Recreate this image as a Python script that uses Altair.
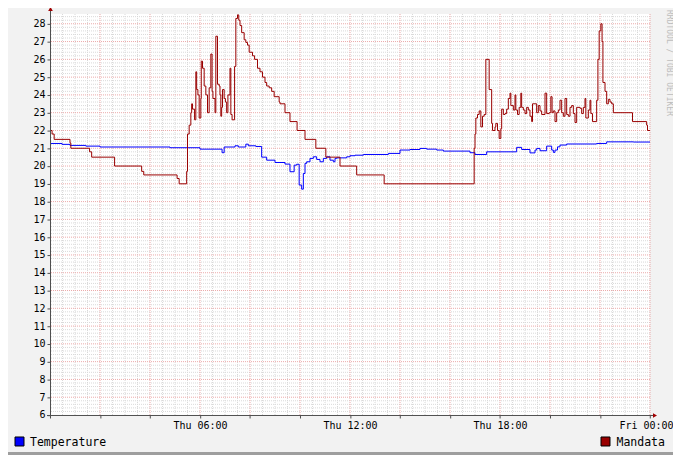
import altair as alt
import pandas as pd

# ---------------- data ----------------
mandata_time = ["00:00","00:05","00:10","00:48","00:50","01:35","01:40","02:35","03:40","03:45",
    "05:05","05:10","05:28","05:30","05:34","05:38","05:40","05:42","05:47","05:50","05:52","05:55",
    "05:58","06:02","06:03","06:06","06:10","06:14","06:18","06:22","06:26","06:29","06:31","06:36",
    "06:38","06:42","06:46","06:48","06:50","06:52","06:54","06:58","07:01","07:04","07:07","07:12",
    "07:14","07:17","07:23","07:26","07:30","07:33","07:36","07:40","07:46","07:50","07:54","07:58",
    "08:06","08:11","08:18","08:24","08:30","08:36","08:40","08:46","08:52","08:58","09:10","09:12",
    "09:24","09:36","09:53","10:12","10:38","11:02","11:36","12:16","13:22",
    "16:58","17:00","17:02","17:06","17:10","17:14","17:18","17:22","17:26","17:34","17:40","17:42",
    "17:48","17:50","17:54","17:58","18:02","18:04","18:08","18:12","18:16","18:20","18:24","18:26",
    "18:32","18:36","18:38","18:42","18:46","18:50","18:52","18:56","19:00","19:04","19:08","19:12",
    "19:16","19:18","19:28","19:32","19:36","19:40","19:48","19:52","19:58","20:02","20:05","20:08",
    "20:12","20:16","20:20","20:24","20:28","20:32","20:36","20:40","20:44","20:48","20:52","20:56",
    "21:00","21:04","21:12","21:16","21:20","21:24","21:26","21:32","21:36","21:38","21:42","21:52",
    "21:55","21:58","22:02","22:05","22:07","22:12","22:16","22:20","22:24","22:28","22:32","23:18",
    "23:52","23:54","24:00"]
mandata_value = [22.0,21.8,21.5,21.3,21.0,20.8,20.5,20.0,19.7,19.5,
    19.3,19.0,19.7,21.8,22.3,23.0,23.5,23.2,22.6,25.3,24.3,24.0,
    22.7,23.8,25.9,25.5,24.5,24.0,23.0,24.4,26.3,24.2,23.8,23.0,
    27.3,24.6,24.5,24.0,22.8,23.3,24.3,23.8,23.6,23.0,24.0,25.5,
    22.9,22.6,25.6,28.3,28.5,28.2,27.9,27.5,27.1,26.95,26.8,26.4,
    26.2,26.0,25.5,25.3,25.0,24.7,24.5,24.4,24.2,23.9,23.6,23.5,
    23.0,22.5,22.0,21.5,21.0,20.5,20.0,19.5,19.0,
    21.0,21.8,22.7,22.9,23.1,22.2,22.8,22.9,26.0,24.3,22.4,22.0,
    22.2,22.4,22.0,21.55,22.1,23.2,22.9,22.95,23.2,23.8,24.1,23.4,
    23.15,24.0,23.15,22.9,23.3,24.1,23.3,23.15,22.95,23.3,23.15,22.8,
    22.5,23.5,23.0,23.4,23.1,22.9,24.1,22.95,23.0,23.9,23.0,23.1,
    22.5,23.0,23.15,23.7,23.0,22.8,23.8,22.9,22.8,23.3,23.4,22.95,
    22.45,23.3,23.25,22.95,23.3,23.8,22.7,23.15,23.7,22.95,22.5,23.7,
    26.0,27.6,28.0,27.0,24.7,24.2,23.5,23.75,23.6,23.5,23.0,22.5,
    22.3,22.0,22.0]

temperature_time = ["00:00","00:29","00:48","01:26","02:00","04:48","06:00","06:53","06:58","07:24",
    "07:32","07:50","07:56","08:14","08:28","08:40","09:00","09:24","09:36","09:46","09:52","09:58",
    "10:04","10:08","10:12","10:16","10:24","10:32","10:40","10:48","10:56","11:04","11:12","11:20",
    "11:24","11:28","11:52","12:00","12:12","12:32","13:32","14:00","14:24","14:48","15:04","15:28",
    "15:44","16:48","17:00","17:28","18:40","18:52","19:12","19:24","19:28","19:36","19:52","20:04",
    "20:08","20:12","20:18","20:24","20:40","21:52","22:16","23:20","24:00"]
temperature_value = [21.27,21.22,21.16,21.12,21.07,21.03,20.95,20.75,21.07,21.14,
    21.07,21.23,21.14,21.1,20.5,20.33,20.2,20.11,19.68,20.05,20.1,18.93,
    18.7,19.58,20.15,20.24,20.43,20.52,20.37,20.24,20.43,20.52,20.33,20.24,
    20.43,20.46,20.52,20.58,20.61,20.65,20.71,20.9,20.93,20.99,20.95,20.9,
    20.84,20.75,20.65,20.8,21.05,20.93,20.74,20.9,20.99,20.86,21.12,20.9,
    20.77,20.9,21.08,21.18,21.24,21.27,21.36,21.35,21.35]

series_names = ["Temperature", "Mandata"]
series_colors = ["#0000FF", "#990000"]

tick_hours = [6, 12, 18, 24]
tick_labels = ["Thu 06:00", "Thu 12:00", "Thu 18:00", "Fri 00:00"]

y_ticks = list(range(6, 29))
watermark = "RRDTOOL / TOBI OETIKER"

# ---------------- build tables ----------------
def to_hours(t):
    h, m = t.split(":")
    return int(h) + int(m) / 60.0

df = pd.concat([
    pd.DataFrame({"h": [to_hours(t) for t in temperature_time], "v": temperature_value, "s": "Temperature"}),
    pd.DataFrame({"h": [to_hours(t) for t in mandata_time], "v": mandata_value, "s": "Mandata"}),
])

minor_x = pd.DataFrame({"h": [i * 0.5 for i in range(1, 49) if i % 4 != 0]})
major_x = pd.DataFrame({"h": list(range(2, 25, 2))})
minor_y = pd.DataFrame({"v": [round(6 + i * 0.2, 1) for i in range(1, 113) if i % 5 != 0]})
major_y = pd.DataFrame({"v": list(range(7, 29))})

# The page shrinks an SVG wider than 665 px to fit (keeping its height and centring it
# vertically); design at 673 units and compensate.
TOTAL_W = 673
K = TOTAL_W / 665.0
TOTAL_H = 447 * K
OFF = TOTAL_H * (1 - 1 / K) / 2.0      # vertical centring offset in page px
W, H = 600 * K, 401 * K
PAD_L = 42 * K
PAD_T = (6 - OFF) * K
PAD_R = TOTAL_W - PAD_L - W
PAD_B = TOTAL_H - PAD_T - H

FONT = "DejaVu Sans Mono"
xs = alt.Scale(domain=[0, 24], nice=False, zero=False)
ys = alt.Scale(domain=[6, 28.55], nice=False, zero=False)

label_expr = " : ".join(
    [f"datum.value == {h} ? '{l}'" for h, l in zip(tick_hours, tick_labels)]) + " : ''"

x_axis = alt.Axis(values=list(range(0, 25, 2)), labelExpr=label_expr, labelOverlap=False,
                  labelFont=FONT, labelFontSize=10 * K, labelColor="#000000", labelPadding=3 * K,
                  labelOffset={"condition": {"test": "datum.value == 24", "value": -4 * K}, "value": 0},
                  tickSize=3 * K, tickColor="#4F4F4F", tickWidth=K, domain=False, grid=False,
                  labelFlush=False, title=None)
y_axis = alt.Axis(values=y_ticks, format="d", labelFont=FONT, labelFontSize=10 * K,
                  labelColor="#000000", labelPadding=2 * K, tickSize=3 * K, tickColor="#4F4F4F",
                  tickWidth=K, domain=False, grid=False, title=None)

MINOR = "#D9D9D9"
MAJOR = "#EBA9A9"
DASH = [1 * K, 1 * K]

grid_minor_x = alt.Chart(minor_x).mark_rule(color=MINOR, strokeDash=DASH, strokeWidth=K).encode(
    x=alt.X("h:Q", scale=xs, axis=x_axis))
grid_major_x = alt.Chart(major_x).mark_rule(color=MAJOR, strokeDash=DASH, strokeWidth=K).encode(
    x=alt.X("h:Q", scale=xs, axis=x_axis))
grid_minor_y = alt.Chart(minor_y).mark_rule(color=MINOR, strokeDash=DASH, strokeWidth=K).encode(
    y=alt.Y("v:Q", scale=ys, axis=y_axis))
grid_major_y = alt.Chart(major_y).mark_rule(color=MAJOR, strokeDash=DASH, strokeWidth=K).encode(
    y=alt.Y("v:Q", scale=ys, axis=y_axis))

lines = alt.Chart(df).mark_line(interpolate="step-after", strokeWidth=K).encode(
    x=alt.X("h:Q", scale=xs, axis=x_axis),
    y=alt.Y("v:Q", scale=ys, axis=y_axis),
    color=alt.Color("s:N", scale=alt.Scale(domain=series_names, range=series_colors), legend=None),
    detail="s:N",
)

axis_color = "#4F4F4F"
y_axis_line = alt.Chart().mark_rule(color=axis_color, strokeWidth=K).encode(
    x=alt.value(0.5 * K), y=alt.value(H + 3 * K), y2=alt.value(-4 * K))
x_axis_line = alt.Chart().mark_rule(color=axis_color, strokeWidth=K).encode(
    x=alt.value(-3 * K), x2=alt.value(W + 5 * K), y=alt.value(H + 0.5 * K))
arrow_up = alt.Chart().mark_point(shape="triangle-up", filled=True, color="#A00000",
                                  size=22 * K * K, opacity=1).encode(
    x=alt.value(0.5 * K), y=alt.value(-5 * K))
arrow_right = alt.Chart().mark_point(shape="triangle-right", filled=True, color="#A00000",
                                     size=22 * K * K, opacity=1).encode(
    x=alt.value(W + 5 * K), y=alt.value(H + 0.5 * K))

leg = pd.DataFrame({"s": series_names, "c": series_colors,
                    "sx": [-30.5 * K, 555.5 * K], "tx": [-20 * K, 566.5 * K]})
leg_sq = alt.Chart(leg).mark_square(size=81 * K * K, stroke="#000000", strokeWidth=K, opacity=1).encode(
    x=alt.X("sx:Q", scale=None), y=alt.value(427.5 * K),
    fill=alt.Fill("c:N", scale=None))
leg_tx = alt.Chart(leg).mark_text(align="left", baseline="alphabetic", font=FONT, fontSize=11.5 * K,
                                  color="#000000").encode(
    x=alt.X("tx:Q", scale=None), y=alt.value(432 * K), text="s:N")

wm = alt.Chart(pd.DataFrame({"t": [watermark]})).mark_text(
    angle=90, align="left", baseline="middle", font=FONT, fontSize=8 * K, color="#BDBDBD").encode(
    x=alt.value(618.5 * K), y=alt.value(-4 * K), text="t:N")

frame_b = alt.Chart().mark_rule(color="#9E9E9E", strokeWidth=3 * K).encode(
    x=alt.value(-42 * K), x2=alt.value(631 * K), y=alt.value(439.5 * K))

chart = alt.layer(
    grid_minor_x, grid_minor_y, grid_major_x, grid_major_y,
    lines, y_axis_line, x_axis_line, arrow_up, arrow_right,
    leg_sq, leg_tx, wm, frame_b,
).properties(
    width=W, height=H,
    autosize=alt.AutoSizeParams(type="none"),
    padding={"left": PAD_L, "top": PAD_T, "right": PAD_R, "bottom": PAD_B},
    background="#F2F2F2",
).configure_view(fill="#FFFFFF", stroke=None)

chart.save("out.html", embed_options={"renderer": "svg", "actions": False})
